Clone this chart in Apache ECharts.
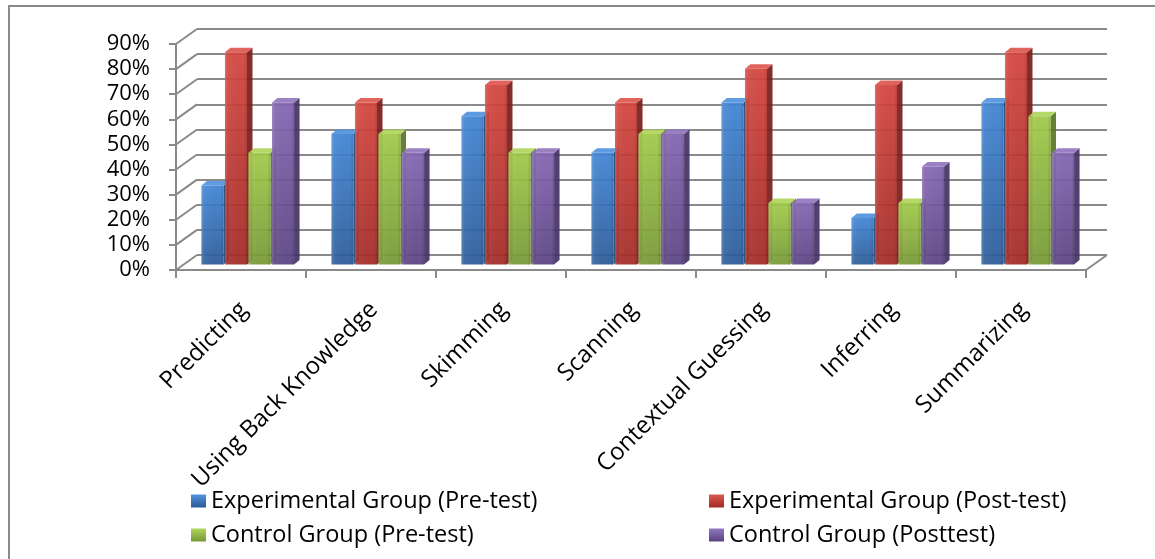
<!DOCTYPE html>
<html>
<head>
<meta charset="utf-8">
<script src="https://cdn.jsdelivr.net/npm/echarts@6/dist/echarts.min.js"></script>
<style>
  html, body { margin: 0; padding: 0; background: #ffffff; }
  #chart { width: 1155px; height: 559px; }
</style>
</head>
<body>
<div id="chart"></div>
<script>
// Reading-strategy scores per group (percent of students)
const categories = ['Predicting', 'Using Back Knowledge', 'Skimming', 'Scanning', 'Contextual Guessing', 'Inferring', 'Summarizing'];
const seriesNames = ['Experimental Group (Pre-test)', 'Experimental Group (Post-test)', 'Control Group (Pre-test)', 'Control Group (Posttest)'];
const expPre   = [31.5, 52.0, 59.0, 44.5, 64.5, 18.5, 64.5];
const expPost  = [84.5, 64.5, 71.5, 64.5, 78.0, 71.5, 84.5];
const ctrlPre  = [44.5, 52.0, 44.5, 52.0, 24.5, 24.5, 59.0];
const ctrlPost = [64.5, 44.5, 44.5, 52.0, 24.5, 39.0, 44.5];
const yTicks = [0, 10, 20, 30, 40, 50, 60, 70, 80, 90];

const seriesValues = [expPre, expPost, ctrlPre, ctrlPost];

// Shading for each series: [front light, front dark, side, top]
const palettes = [
  ['#3f84d4', '#2a5a98', '#21467a', '#5293de'],
  ['#d4433c', '#a22925', '#7a1e1c', '#de5850'],
  ['#a0ca47', '#769834', '#5a7726', '#b0d55e'],
  ['#8264b1', '#5a4282', '#453165', '#9177c0']
];

// Pseudo-3D layout: front plane (axes), bar plane, back wall
const Y_MAX = 90;
const FRONT = { left: 176, right: 69, top: 44, bottom: 289 };
const BACK  = { left: 197, right: 48, top: 29, bottom: 304 };
const BARS  = { left: 183.5, right: 61.5, top: 38.5, bottom: 294.5 };
const DEPTH_X = BACK.left - FRONT.left;
const DEPTH_Y = FRONT.bottom - BACK.bottom;
const SIDE_X = 5.5, SIDE_Y = -4.5;
const LINE_GRAY = '#8a8a8a';
const FONT = '"Open Sans", "Liberation Sans", sans-serif';

const chart = echarts.init(document.getElementById('chart'), null, { renderer: 'canvas' });

function barRenderer(k) {
  const pal = palettes[k];
  return function (params, api) {
    const ci = api.value(0);
    const v = api.value(1);
    const base = api.coord([ci, 0]);
    const top = api.coord([ci, v]);
    const band = api.size([1, 0])[0];
    const pitch = band * 0.181;
    const faceW = pitch - 1.5;
    const x0 = base[0] - 2 * pitch + k * pitch;
    const x1 = x0 + faceW;
    const yT = top[1], yB = base[1];
    const op = 0.93;
    return {
      type: 'group',
      children: [
        {
          type: 'polygon',
          shape: { points: [[x1, yT], [x1 + SIDE_X, yT + SIDE_Y], [x1 + SIDE_X, yB + SIDE_Y], [x1, yB]] },
          style: { fill: pal[2], opacity: op }
        },
        {
          type: 'rect',
          shape: { x: x0, y: yT, width: faceW, height: yB - yT },
          style: {
            fill: new echarts.graphic.LinearGradient(0, 0, 0, 1, [
              { offset: 0, color: pal[0] },
              { offset: 1, color: pal[1] }
            ]),
            opacity: op
          }
        },
        {
          type: 'rect',
          shape: { x: x0, y: yT, width: faceW, height: yB - yT },
          style: {
            fill: new echarts.graphic.LinearGradient(0, 0, 1, 0, [
              { offset: 0, color: 'rgba(255,255,255,0.18)' },
              { offset: 0.12, color: 'rgba(255,255,255,0.04)' },
              { offset: 0.85, color: 'rgba(0,0,0,0)' },
              { offset: 1, color: 'rgba(0,0,0,0.12)' }
            ])
          }
        },
        {
          type: 'polygon',
          shape: { points: [[x0, yT], [x0 + SIDE_X, yT + SIDE_Y], [x1 + SIDE_X, yT + SIDE_Y], [x1, yT]] },
          style: { fill: pal[3], opacity: op }
        }
      ]
    };
  };
}

const barSeries = seriesValues.map(function (vals, k) {
  return {
    name: seriesNames[k],
    type: 'custom',
    xAxisIndex: 1,
    yAxisIndex: 1,
    renderItem: barRenderer(k),
    itemStyle: {
      color: new echarts.graphic.LinearGradient(0, 0, 0, 1, [
        { offset: 0, color: palettes[k][3] },
        { offset: 1, color: palettes[k][1] }
      ])
    },
    encode: { x: 0, y: 1 },
    z: 5,
    data: vals.map(function (v, i) { return [i, v]; })
  };
});

// Left wall lines joining front ticks to back gridlines, plus right floor edge
const wallSeries = {
  type: 'custom',
  xAxisIndex: 0,
  yAxisIndex: 0,
  silent: true,
  z: 2,
  encode: { y: 0 },
  renderItem: function (params, api) {
    const cs = params.coordSys;
    const y = api.coord([0, api.value(0)])[1];
    const children = [{
      type: 'line',
      shape: { x1: cs.x, y1: y, x2: cs.x + DEPTH_X, y2: y + DEPTH_Y },
      style: { stroke: LINE_GRAY, lineWidth: 2 }
    }];
    if (api.value(0) === 0) {
      children.push({
        type: 'line',
        shape: { x1: cs.x + cs.width, y1: y, x2: cs.x + cs.width + DEPTH_X, y2: y + DEPTH_Y },
        style: { stroke: LINE_GRAY, lineWidth: 2 }
      });
    }
    return { type: 'group', children: children };
  },
  data: yTicks.map(function (t) { return [t]; })
};

function gridOf(g) {
  return { left: g.left, right: g.right, top: g.top, bottom: g.bottom, containLabel: false, outerBoundsMode: 'none' };
}

const legendText = { fontFamily: FONT, fontSize: 23.5, color: '#000000' };

const option = {
  backgroundColor: '#ffffff',
  animation: false,
  graphic: [{
    type: 'rect',
    z: 100,
    silent: true,
    shape: { x: 9, y: 6, width: 1300, height: 700 },
    style: { fill: 'none', stroke: LINE_GRAY, lineWidth: 2 }
  }],
  grid: [gridOf(FRONT), gridOf(BARS), gridOf(BACK)],
  xAxis: [
    {
      gridIndex: 0, type: 'category', data: categories, boundaryGap: true,
      axisLine: { show: true, lineStyle: { color: LINE_GRAY, width: 2 } },
      axisTick: { show: true, alignWithLabel: false, interval: 0, length: 8, lineStyle: { color: LINE_GRAY, width: 2 } },
      axisLabel: {
        interval: 0, rotate: 45, margin: 33, fontFamily: FONT, fontSize: 24, color: '#000000',
        align: 'right', verticalAlign: 'top', lineHeight: 8
      },
      splitLine: { show: false }
    },
    {
      gridIndex: 1, type: 'category', data: categories, boundaryGap: true, show: false
    },
    {
      gridIndex: 2, type: 'category', data: categories, boundaryGap: true, show: false
    }
  ],
  yAxis: [
    {
      gridIndex: 0, type: 'value', min: 0, max: Y_MAX, interval: 10,
      axisLine: { show: true, lineStyle: { color: LINE_GRAY, width: 2 } },
      axisTick: { show: true, length: 7, lineStyle: { color: LINE_GRAY, width: 2 } },
      axisLabel: { margin: 26, fontFamily: FONT, fontSize: 22, color: '#000000', formatter: '{value}%' },
      splitLine: { show: false }
    },
    {
      gridIndex: 1, type: 'value', min: 0, max: Y_MAX, interval: 10, show: false,
      splitLine: { show: false }
    },
    {
      gridIndex: 2, type: 'value', min: 0, max: Y_MAX, interval: 10,
      axisLine: { show: false }, axisTick: { show: false }, axisLabel: { show: false },
      splitLine: { show: true, lineStyle: { color: LINE_GRAY, width: 2 } }
    }
  ],
  legend: [
    {
      data: [seriesNames[0], seriesNames[2]],
      orient: 'vertical', left: 186, top: 484,
      itemWidth: 15, itemHeight: 13, itemGap: 10,
      icon: 'rect', textStyle: legendText
    },
    {
      data: [seriesNames[1], seriesNames[3]],
      orient: 'vertical', left: 704, top: 484,
      itemWidth: 15, itemHeight: 13, itemGap: 10,
      icon: 'rect', textStyle: legendText
    }
  ],
  series: [wallSeries].concat(barSeries)
};

chart.setOption(option);
</script>
</body>
</html>
